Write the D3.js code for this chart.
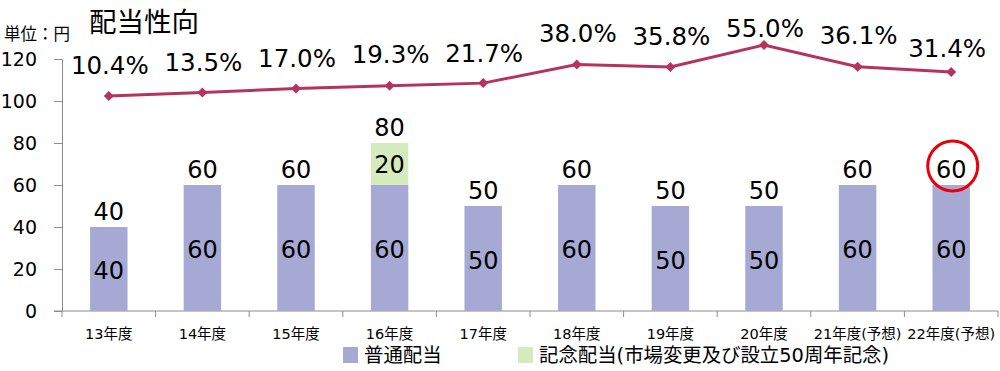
<!doctype html>
<html lang="ja">
<head>
  <meta charset="utf-8">
  <script src="https://d3js.org/d3.v7.min.js"></script>
  <style>
    body { margin: 0; background: #fff; }
    text { font-family: "DejaVu Sans", "Noto Sans CJK JP", sans-serif; fill: #000; }
  </style>
</head>
<body>
  <script>
    // chart data
    var years = ["13年度", "14年度", "15年度", "16年度", "17年度", "18年度", "19年度", "20年度", "21年度(予想)", "22年度(予想)"];
    var ordinary = [40, 60, 60, 60, 50, 60, 50, 50, 60, 60];      // 普通配当
    var memorial = [0, 0, 0, 20, 0, 0, 0, 0, 0, 0];               // 記念配当
    var payout = [10.4, 13.5, 17.0, 19.3, 21.7, 38.0, 35.8, 55.0, 36.1, 31.4]; // 配当性向 %
    var yTicks = [0, 20, 40, 60, 80, 100, 120];

    // how far each % label sits above its point (hand placed in the original)
    var labelLift = [22, 22, 21, 23, 21, 22, 22, 8, 23, 15];

    var width = 1000,
        height = 371;

    var svg = d3.select("body").append("svg")
        .attr("width", width)
        .attr("height", height);

    var x = d3.scaleBand()
        .domain(years)
        .range([62, 998])
        .paddingInner(0.6)
        .paddingOuter(0.3);

    var y = d3.scaleLinear()
        .domain([0, 120])
        .range([311, 59]);

    // hidden secondary scale for the payout line
    var y2 = d3.scaleLinear()
        .domain([-177.6, 42.8])
        .range([311, 59]);

    // y axis
    var yAxis = svg.append("g")
        .attr("transform", "translate(62,0)")
        .call(d3.axisLeft(y).tickValues(yTicks).tickSize(8).tickPadding(17));
    yAxis.selectAll("path, line").attr("stroke", "#8c8c8c");
    yAxis.selectAll("text").style("font-size", "19px");

    // x axis: line + ticks at category boundaries
    var band = x.step();
    var xAxis = svg.append("g")
        .attr("transform", "translate(0,311)");
    xAxis.append("line")
        .attr("x1", 54).attr("x2", 998)
        .attr("stroke", "#8c8c8c");
    xAxis.selectAll("line.tick")
      .data(d3.range(years.length + 1))
      .enter().append("line")
        .attr("class", "tick")
        .attr("x1", function(i) { return 62 + i * band; })
        .attr("x2", function(i) { return 62 + i * band; })
        .attr("y1", 0).attr("y2", 6)
        .attr("stroke", "#8c8c8c");
    xAxis.selectAll("text")
      .data(years)
      .enter().append("text")
        .attr("x", function(d) { return x(d) + x.bandwidth() / 2; })
        .attr("y", 28)
        .attr("text-anchor", "middle")
        .style("font-size", "14.5px")
        .text(function(d) { return d; });

    // ordinary dividend bars
    svg.selectAll("rect.ord")
      .data(ordinary)
      .enter().append("rect")
        .attr("class", "ord")
        .attr("x", function(d, i) { return x(years[i]); })
        .attr("width", x.bandwidth())
        .attr("y", function(d) { return y(d); })
        .attr("height", function(d) { return y(0) - y(d); })
        .style("fill", "#a5a9d3");

    // memorial dividend bars (stacked)
    svg.selectAll("rect.mem")
      .data(memorial)
      .enter().append("rect")
        .attr("class", "mem")
        .attr("x", function(d, i) { return x(years[i]); })
        .attr("width", x.bandwidth())
        .attr("y", function(d, i) { return y(ordinary[i] + d); })
        .attr("height", function(d, i) { return y(ordinary[i]) - y(ordinary[i] + d); })
        .style("fill", "#d5eabd");

    // labels inside bars
    svg.selectAll("text.ordlab")
      .data(ordinary)
      .enter().append("text")
        .attr("x", function(d, i) { return x(years[i]) + x.bandwidth() / 2; })
        .attr("y", function(d) { return (y(0) + y(d)) / 2 + 10; })
        .attr("text-anchor", "middle")
        .style("font-size", "24px")
        .text(function(d) { return d; });

    svg.selectAll("text.memlab")
      .data(memorial.map(function(d, i) { return { v: d, i: i }; }).filter(function(d) { return d.v > 0; }))
      .enter().append("text")
        .attr("x", function(d) { return x(years[d.i]) + x.bandwidth() / 2; })
        .attr("y", function(d) { return (y(ordinary[d.i]) + y(ordinary[d.i] + d.v)) / 2 + 9; })
        .attr("text-anchor", "middle")
        .style("font-size", "24px")
        .text(function(d) { return d.v; });

    // total labels above bars
    svg.selectAll("text.total")
      .data(ordinary)
      .enter().append("text")
        .attr("x", function(d, i) { return x(years[i]) + x.bandwidth() / 2; })
        .attr("y", function(d, i) { return y(d + memorial[i]) - 7; })
        .attr("text-anchor", "middle")
        .style("font-size", "24px")
        .text(function(d, i) { return d + memorial[i]; });

    // red circle on the last forecast
    var last = years.length - 1;
    svg.append("circle")
        .attr("cx", x(years[last]) + x.bandwidth() / 2 + 1.5)
        .attr("cy", y(ordinary[last] + memorial[last]) - 19)
        .attr("r", 25)
        .style("fill", "none")
        .style("stroke", "#e8000b")
        .style("stroke-width", 3);

    // payout ratio line
    var cx = function(d, i) { return x(years[i]) + x.bandwidth() / 2; };
    var line = d3.line()
        .x(cx)
        .y(function(d) { return y2(d); });

    svg.append("path")
        .datum(payout)
        .attr("d", line)
        .style("fill", "none")
        .style("stroke", "#b5335f")
        .style("stroke-width", 3);

    svg.selectAll("path.marker")
      .data(payout)
      .enter().append("path")
        .attr("class", "marker")
        .attr("d", d3.symbol().type(d3.symbolSquare).size(50))
        .attr("transform", function(d, i) { return "translate(" + cx(d, i) + "," + y2(d) + ") rotate(45)"; })
        .style("fill", "#b5335f");

    svg.selectAll("text.pct")
      .data(payout)
      .enter().append("text")
        .attr("x", function(d, i) { return cx(d, i) + (i === last ? -4 : 1); })
        .attr("y", function(d, i) { return y2(d) - labelLift[i]; })
        .attr("text-anchor", "middle")
        .style("font-size", "24.5px")
        .text(function(d) { return d.toFixed(1) + "%"; });

    // titles
    svg.append("text")
        .attr("x", 89).attr("y", 32)
        .style("font-size", "27.5px")
        .text("配当性向");
    svg.append("text")
        .attr("x", 4).attr("y", 40)
        .style("font-size", "16.5px")
        .text("単位：円");

    // legend
    var legend = [
      { label: "普通配当", color: "#a5a9d3", x: 343 },
      { label: "記念配当(市場変更及び設立50周年記念)", color: "#d5eabd", x: 518 }
    ];
    var lg = svg.selectAll("g.legend")
      .data(legend)
      .enter().append("g")
        .attr("class", "legend")
        .attr("transform", function(d) { return "translate(" + d.x + ",347)"; });
    lg.append("rect")
        .attr("width", 15).attr("height", 16)
        .style("fill", function(d) { return d.color; });
    lg.append("text")
        .attr("x", 21).attr("y", 15)
        .style("font-size", "19.4px")
        .text(function(d) { return d.label; });
  </script>
</body>
</html>
